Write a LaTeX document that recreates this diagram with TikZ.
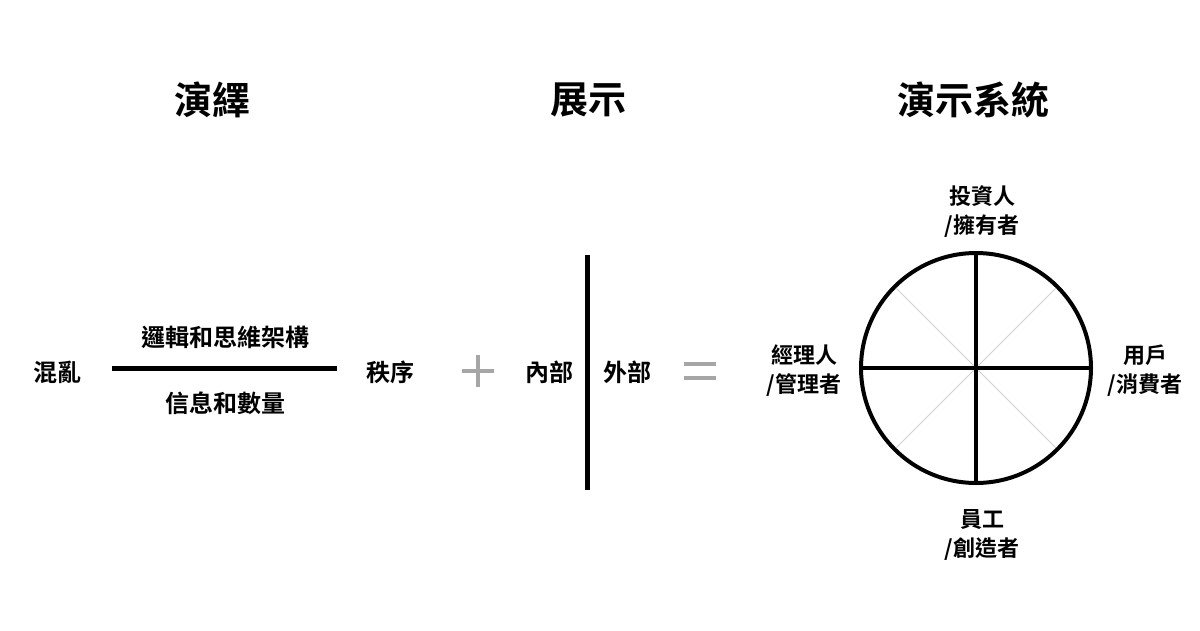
\documentclass[tikz,border=0pt]{standalone}
\usepackage{fontspec}
\setmainfont{Noto Sans CJK TC}[BoldFont={* Bold}]
\begin{document}
\begin{tikzpicture}[x=1pt,y=-1pt,
  title/.style={font=\fontsize{38}{40}\selectfont\bfseries},
  lbl/.style={font=\fontsize{24}{30}\selectfont\bfseries, align=center},
  bar/.style={line width=5pt},
  ring/.style={line width=4pt},
  sym/.style={line width=3.5pt, draw=black!35},
  spoke/.style={line width=0.8pt, draw=black!18}]
\useasboundingbox[fill=white] (0,0) rectangle (1200,630);
\node[title] (t1) at (212,100) {演繹};
\node[title] (t2) at (588,100) {展示};
\node[title] (t3) at (973,100) {演示系統};
% left
\node[lbl] (chaos) at (57,372) {混亂};
\coordinate (la) at (112,368); \coordinate (lb) at (337,368);
\draw[bar] (la) -- (lb);
\node[lbl] (logic) at (225,337) {邏輯和思維架構};
\node[lbl] (info) at (225,403) {信息和數量};
\node[lbl] (order) at (390,372) {秩序};
\coordinate (plus) at (478,371);
\draw[sym] ([xshift=-16pt]plus) -- ([xshift=16pt]plus) ([yshift=-16pt]plus) -- ([yshift=16pt]plus);
% middle
\node[lbl] (inner) at (549,372) {內部};
\coordinate (va) at (587,255); \coordinate (vb) at (587,490);
\draw[bar] (va) -- (vb);
\node[lbl] (outer) at (627,372) {外部};
\coordinate (eq) at (700,371);
\draw[sym] ([shift={(-16pt,-7pt)}]eq) -- ([shift={(16pt,-7pt)}]eq) ([shift={(-16pt,7pt)}]eq) -- ([shift={(16pt,7pt)}]eq);
% circle
\coordinate (c) at (976,368);
\foreach \a in {45,135,225,315} \draw[spoke] (c) -- ++(\a:115);
\draw[ring] (c) circle[radius=115];
\draw[ring] ([xshift=-115pt]c) -- ([xshift=115pt]c);
\draw[ring] ([yshift=-115pt]c) -- ([yshift=115pt]c);
\node[lbl,font=\fontsize{22}{29}\selectfont\bfseries] (top) at (982,212) {投資人\\/擁有者};
\node[lbl,font=\fontsize{22}{29}\selectfont\bfseries] (left) at (804,371) {經理人\\/管理者};
\node[lbl,font=\fontsize{22}{29}\selectfont\bfseries] (right) at (1145,371) {用戶\\/消費者};
\node[lbl,font=\fontsize{22}{29}\selectfont\bfseries] (bot) at (982,535) {員工\\/創造者};
\end{tikzpicture}
\end{document}
